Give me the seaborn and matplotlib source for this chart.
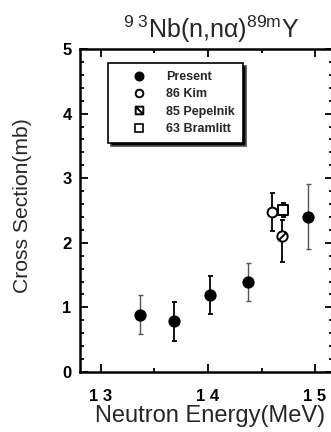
import numpy as np
import pandas as pd
import matplotlib
matplotlib.use("Agg")
import matplotlib.pyplot as plt
from matplotlib.path import Path
from matplotlib.lines import Line2D
import seaborn as sns

# --- data -------------------------------------------------------------
present_e = [13.36, 13.68, 14.02, 14.37, 14.93]
present_xs = [0.89, 0.79, 1.19, 1.40, 2.40]
present_lo = [0.59, 0.48, 0.90, 1.10, 1.90]
present_hi = [1.19, 1.09, 1.49, 1.69, 2.91]

kim_e = [14.60]
kim_xs = [2.48]
kim_lo = [2.19]
kim_hi = [2.77]

pepelnik_e = [14.69]
pepelnik_xs = [2.10]
pepelnik_lo = [1.71]
pepelnik_hi = [2.36]

bramlitt_e = [14.70]
bramlitt_xs = [2.51]
bramlitt_lo = [2.40]
bramlitt_hi = [2.62]

labels = ["Present", "86 Kim", "85 Pepelnik", "63 Bramlitt"]
xtick_vals = [13, 14, 15]
xtick_labels = ["1 3", "1 4", "1 5"]
ytick_vals = [0, 1, 2, 3, 4, 5]

# --- style ------------------------------------------------------------
sns.set_style("ticks")
plt.rcParams["font.family"] = ["Liberation Sans", "DejaVu Sans"]
plt.rcParams["mathtext.fontset"] = "custom"
plt.rcParams["mathtext.rm"] = "Liberation Sans"
plt.rcParams["mathtext.it"] = "Liberation Sans:italic"
plt.rcParams["mathtext.sf"] = "Liberation Sans"

W, H = 331, 432
fig = plt.figure(figsize=(W / 100, H / 100), dpi=100)
ax = fig.add_axes([80 / W, (H - 372) / H, (333 - 80) / W, (372 - 49) / H])

# circle / square with a slash for the Pepelnik set
circ = Path.unit_circle()
slash = Path([(-0.75, -0.75), (0.75, 0.75)], [Path.MOVETO, Path.LINETO])
slashed_circle = Path.make_compound_path(circ, slash)
sq = Path([(-1, -1), (1, -1), (1, 1), (-1, 1), (-1, -1)],
          [Path.MOVETO, Path.LINETO, Path.LINETO, Path.LINETO, Path.CLOSEPOLY])
slash_sq = Path([(-1, 1), (1, -1)], [Path.MOVETO, Path.LINETO])
slashed_square = Path.make_compound_path(sq, slash_sq)

rows = []
for name, e, xs in [(labels[0], present_e, present_xs),
                    (labels[1], kim_e, kim_xs),
                    (labels[2], pepelnik_e, pepelnik_xs),
                    (labels[3], bramlitt_e, bramlitt_xs)]:
    for a, b in zip(e, xs):
        rows.append({"E": a, "xs": b, "set": name})
df = pd.DataFrame(rows)


def bars(e, v, lo, hi, lw, color):
    yerr = [np.subtract(v, lo), np.subtract(hi, v)]
    ax.errorbar(e, v, yerr=yerr, fmt="none", ecolor=color, elinewidth=lw,
                capsize=1.8, capthick=lw, zorder=2)


# present error bars: some drawn in a lighter thin line
bars(present_e[1:3], present_xs[1:3], present_lo[1:3], present_hi[1:3], 1.3, "black")
bars([present_e[0], present_e[3], present_e[4]],
     [present_xs[0], present_xs[3], present_xs[4]],
     [present_lo[0], present_lo[3], present_lo[4]],
     [present_hi[0], present_hi[3], present_hi[4]], 1.0, "#555555")
bars(kim_e, kim_xs, kim_lo, kim_hi, 1.3, "black")
bars(pepelnik_e, pepelnik_xs, pepelnik_lo, pepelnik_hi, 1.3, "black")
bars(bramlitt_e, bramlitt_xs, bramlitt_lo, bramlitt_hi, 1.3, "black")

styles = {
    labels[0]: dict(marker="o", facecolor="black", s=55),
    labels[1]: dict(marker="o", facecolor="white", s=50),
    labels[2]: dict(marker=slashed_circle, facecolor="white", s=55),
    labels[3]: dict(marker="s", facecolor="white", s=45),
}
for name in labels:
    sub = df[df["set"] == name]
    st = styles[name]
    sns.scatterplot(data=sub, x="E", y="xs", ax=ax, marker=st["marker"],
                    color=st["facecolor"], edgecolor="black", linewidth=1.4,
                    s=st["s"], zorder=3, legend=False)

ax.set_xlim(12.804, 15.168)
ax.set_ylim(0, 5)
ax.set_xticks(xtick_vals)
ax.set_xticklabels(xtick_labels)
ax.set_xticks([13.5, 14.5], minor=True)
ax.set_yticks(ytick_vals)
ax.set_yticks(np.arange(0, 5.01, 0.2), minor=True)
ax.tick_params(which="both", direction="in", top=True, right=True,
               width=1.3, colors="black")
ax.tick_params(which="major", length=6, labelsize=12)
ax.tick_params(which="minor", length=3)
ax.tick_params(axis="x", which="major", pad=12)
ax.tick_params(axis="y", which="major", pad=6)
for lab in ax.get_xticklabels() + ax.get_yticklabels():
    lab.set_fontweight("bold")
for sp in ax.spines.values():
    sp.set_linewidth(1.8)
    sp.set_color("black")

ax.set_xlabel("")
ax.set_ylabel("")
fig.text(210 / W, 1 - 416 / H, "Neutron Energy(MeV)", ha="center", va="center",
         fontsize=17)
fig.text(23 / W, 1 - 205.5 / H, "Cross Section(mb)", ha="center", va="center",
         rotation=90, fontsize=15.2)
fig.text(211 / W, 1 - 29 / H, r"$^{9\ 3}$Nb(n,nα)$^{89\mathrm{m}}$Y",
         ha="center", va="center", fontsize=18)

handles = [
    Line2D([], [], ls="none", marker="o", mfc="black", mec="black", ms=6, mew=1.2),
    Line2D([], [], ls="none", marker="o", mfc="white", mec="black", ms=5.5, mew=1.4),
    Line2D([], [], ls="none", marker=slashed_square, mfc="white", mec="black", ms=5.5, mew=1.4),
    Line2D([], [], ls="none", marker="s", mfc="white", mec="black", ms=5.5, mew=1.2),
]
leg = fig.legend(handles, labels, loc="upper left",
                 bbox_to_anchor=(108 / W, 1 - 63 / H), borderaxespad=0,
                 prop={"size": 9, "weight": "bold"}, frameon=True,
                 fancybox=False, borderpad=0.65,
                 handlelength=3.7, handletextpad=0.3, labelspacing=0.42,
                 shadow={"ox": 2.5, "oy": -2.5, "facecolor": "black", "alpha": 1.0})
leg.get_frame().set_edgecolor("black")
leg.get_frame().set_linewidth(1.2)
leg.get_frame().set_alpha(1)

fig.savefig("out.png", dpi=100)
